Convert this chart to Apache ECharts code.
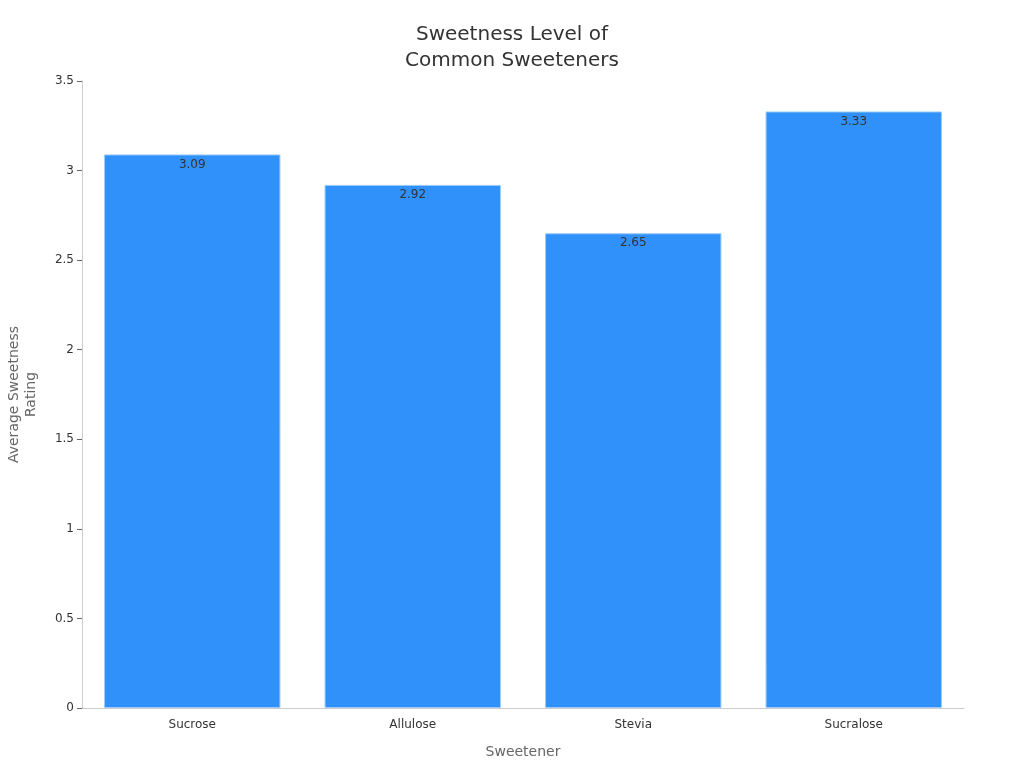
<!DOCTYPE html>
<html>
<head>
<meta charset="utf-8">
<script src="https://cdn.jsdelivr.net/npm/echarts@6/dist/echarts.min.js"></script>
<style>
  html, body { margin: 0; padding: 0; background: #fff; }
  #main { width: 1024px; height: 768px; }
</style>
</head>
<body>
<div id="main"></div>
<script>
// data
var categories = ['Sucrose', 'Allulose', 'Stevia', 'Sucralose'];
var sweetness = [3.09, 2.92, 2.65, 3.33];

var chart = echarts.init(document.getElementById('main'));

var option = {
  animation: false,
  title: {
    text: 'Sweetness Level of\nCommon Sweeteners',
    left: 'center',
    top: 17,
    textStyle: {
      fontFamily: 'DejaVu Sans',
      fontSize: 20,
      fontWeight: 'normal',
      color: '#333',
      lineHeight: 26
    }
  },
  grid: {
    left: 82,
    right: 60,
    top: 81,
    bottom: 60,
    outerBoundsMode: 'none'
  },
  xAxis: {
    type: 'category',
    data: categories,
    name: 'Sweetener',
    nameLocation: 'middle',
    nameGap: 37,
    nameTextStyle: { fontFamily: 'DejaVu Sans', fontSize: 14, color: '#666' },
    axisLine: { lineStyle: { color: '#ccc' } },
    axisTick: { alignWithLabel: true, lineStyle: { color: '#666' } },
    axisLabel: { fontFamily: 'DejaVu Sans', fontSize: 12, color: '#333', margin: 11 }
  },
  yAxis: {
    type: 'value',
    min: 0,
    max: 3.5,
    interval: 0.5,
    name: 'Average Sweetness\nRating',
    nameLocation: 'middle',
    nameGap: 42,
    nameTextStyle: { fontFamily: 'DejaVu Sans', fontSize: 14, color: '#666', lineHeight: 17 },
    axisLine: { show: true, lineStyle: { color: '#ccc' } },
    axisTick: { show: true, lineStyle: { color: '#666' } },
    axisLabel: { fontFamily: 'DejaVu Sans', fontSize: 12, color: '#333', margin: 8 },
    splitLine: { show: false }
  },
  series: [{
    name: 'Sweetness',
    type: 'bar',
    data: sweetness,
    barCategoryGap: '20%',
    itemStyle: {
      color: '#2f91f9',
      borderColor: '#9ccbfb',
      borderWidth: 1
    },
    label: {
      show: true,
      position: 'insideTop',
      distance: 4,
      fontFamily: 'DejaVu Sans',
      fontSize: 12,
      color: '#333'
    }
  }]
};

chart.setOption(option);

window.addEventListener('resize', function () {
  chart.resize();
});
</script>
</body>
</html>
